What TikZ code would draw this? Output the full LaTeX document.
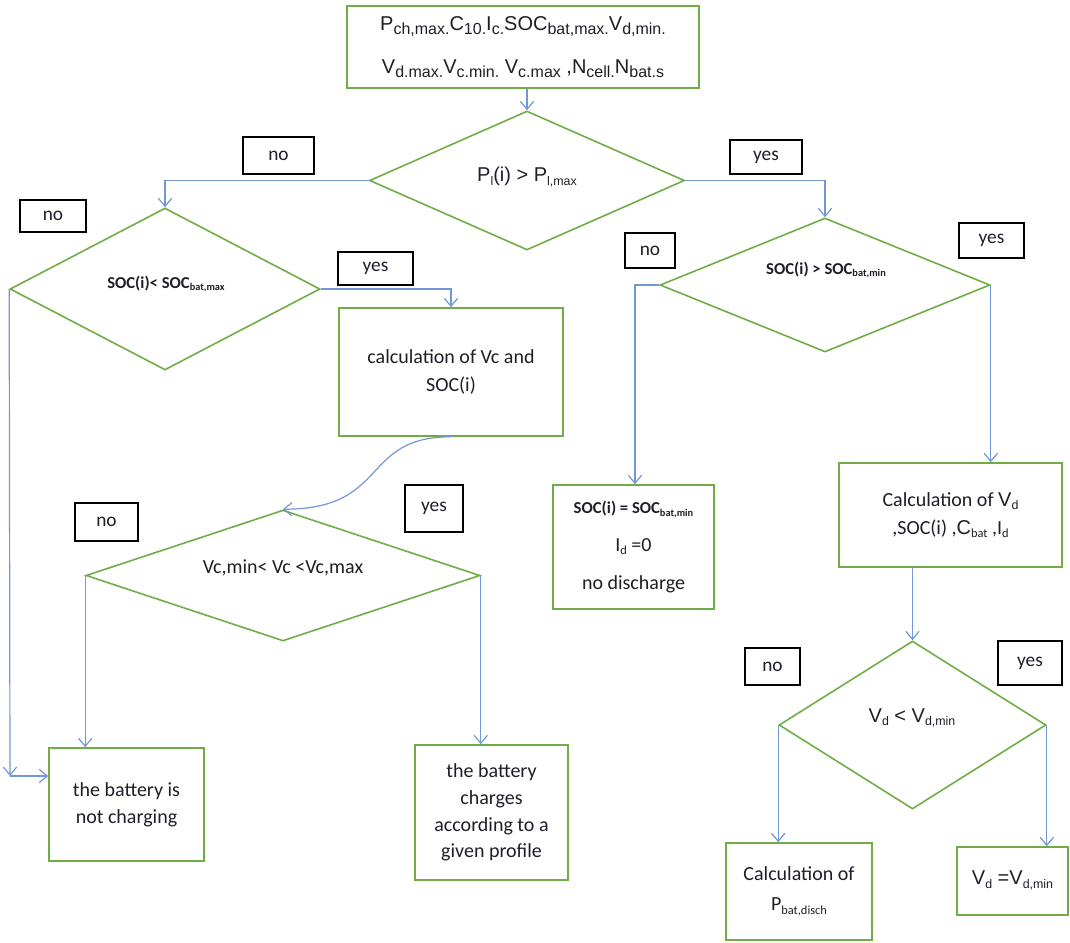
\documentclass[tikz,border=0pt]{standalone}
\usepackage{fontspec}
\setmainfont{Carlito}
\newfontfamily\arialf{Liberation Sans}
\usetikzlibrary{shapes.geometric,arrows.meta}
\definecolor{boxgreen}{HTML}{70AD47}
\definecolor{arrowblue}{HTML}{7396D8}
\definecolor{inkc}{HTML}{1E1E28}
\newcommand\sbs[1]{\raisebox{-0.35ex}{\scalebox{0.62}{#1}}}
\newcommand\sbt[1]{\raisebox{-0.35ex}{\scalebox{0.8}{#1}}}
\begin{document}
\begin{tikzpicture}[x=0.75pt,y=-0.75pt,
  box/.style={draw=boxgreen, line width=1.2pt, rectangle, inner sep=0pt, align=center, text=inkc, font=\fontsize{15}{21}\selectfont},
  dia/.style={draw=boxgreen, line width=1.2pt, diamond, inner sep=0pt},
  lbl/.style={draw=black, line width=1.1pt, rectangle, inner sep=0pt, text=inkc, font=\fontsize{14.5}{17}\selectfont},
  txt/.style={inner sep=0pt, text=inkc, font=\fontsize{15}{18}\selectfont},
  btxt/.style={inner sep=0pt, text=inkc, font=\fontsize{12.5}{15}\selectfont\bfseries},
  arr/.style={draw=arrowblue, line width=0.9pt, -{Straight Barb[length=6pt,width=10pt]}}
]
\useasboundingbox (0,0) rectangle (1070,942);

% process boxes
\node[box, minimum width=264pt, minimum height=61.5pt, font=\fontsize{15}{32}\selectfont\arialf] (top) at (523,47)
  {P\sbt{ch,max.}C\sbt{10.}I\sbt{c.}SOC\sbt{bat,max.}V\sbt{d,min.}\\
   V\sbt{d.max.}V\sbt{c.min.} V\sbt{c.max} ,N\sbt{cell.}N\sbt{bat.s}};
\node[box, minimum width=168pt, minimum height=96pt] (calcVc) at (451,372)
  {calculation of Vc and\\SOC(i)};
\node[box, minimum width=116.25pt, minimum height=84.75pt, font=\fontsize{15}{20}\selectfont] (notchg) at (126.5,804.5)
  {the battery is\\not charging};
\node[box, minimum width=114.75pt, minimum height=101.25pt, font=\fontsize{15}{20}\selectfont] (charges) at (491.5,812.5)
  {the battery\\charges\\according to a\\given profile};
\node[box, minimum width=120.75pt, minimum height=93pt, font=\fontsize{15}{28.5}\selectfont] (socbox) at (633.5,547)
  {{\fontsize{12.5}{15}\selectfont\bfseries SOC(i) = SOC\sbs{bat,min}}\\I\sbs{d} =0\\no discharge};
\node[box, minimum width=167.25pt, minimum height=78pt] (calcVd) at (950.5,515)
  {Calculation of {\arialf V\sbs{d}}\\,SOC(i) ,{\arialf C}\sbs{bat} ,I\sbs{d}};
\node[box, minimum width=109.5pt, minimum height=72.75pt, font=\fontsize{15}{22.5}\selectfont] (pbat) at (799,891.5)
  {Calculation of\\P\sbs{bat,disch}};
\node[box, minimum width=83.25pt, minimum height=51pt, font=\fontsize{15}{18}\selectfont\arialf] (vdmin) at (1012.5,881)
  {\raisebox{5pt}{V\sbs{d} =V\sbs{d,min}}};

% decisions
\node[dia, minimum width=236.25pt, minimum height=104.25pt] (d1) at (527,180.5) {};
\node[dia, minimum width=232.5pt, minimum height=121.5pt] (d2) at (165,289) {};
\node[dia, minimum width=295.5pt, minimum height=98.25pt] (d3) at (283,575.5) {};
\node[dia, minimum width=247.5pt, minimum height=100.5pt] (d4) at (825,285) {};
\node[dia, minimum width=200.25pt, minimum height=126pt] (d5) at (912.5,725) {};

\node[txt, font=\fontsize{15}{18}\selectfont\arialf] (d1t) at (527,177) {P\sbs{l}(i) > P\sbs{l,max}};
\node[btxt] (d2t) at (166,284) {SOC(i)< SOC\sbs{bat,max}};
\node[txt] (d3t) at (283,568) {Vc,min< Vc <Vc,max};
\node[btxt] (d4t) at (826,270) {SOC(i) > SOC\sbs{bat,min}};
\node[txt, font=\fontsize{15}{18}\selectfont\arialf] (d5t) at (912,718) {V\sbs{d} < V\sbs{d,min}};

% yes / no labels
\node[lbl, minimum width=53.25pt, minimum height=27.75pt] (no1) at (278.5,155.5) {no};
\node[lbl, minimum width=54pt, minimum height=25.5pt] (yes1) at (766,157) {yes};
\node[lbl, minimum width=49.5pt, minimum height=24pt] (no2) at (53,216) {no};
\node[lbl, minimum width=56.25pt, minimum height=24.75pt] (yes2) at (375.5,268.5) {yes};
\node[lbl, minimum width=47.25pt, minimum height=28.5pt] (no3) at (106.5,522) {no};
\node[lbl, minimum width=43.5pt, minimum height=35.25pt] (yes3) at (434,508.5) {yes};
\node[lbl, minimum width=37.5pt, minimum height=26.25pt] (no4) at (650,250.5) {no};
\node[lbl, minimum width=48.75pt, minimum height=26.25pt] (yes4) at (991.5,240.5) {yes};
\node[lbl, minimum width=41.25pt, minimum height=27.75pt] (no5) at (772.5,666.5) {no};
\node[lbl, minimum width=48pt, minimum height=33pt] (yes5) at (1030,663) {yes};

% connectors
\coordinate (c1) at (10,776);
\coordinate (c2) at (635,285);
\draw[arr] (d1.north |- top.south) -- (d1.north);
\draw[arr] (d1.west) -| (d2.north);
\draw[arr] (d1.east) -| (d4.north);
\draw[arr] (d2.east) -| (calcVc.north);
\draw[arr] (calcVc.south) .. controls +(-91,0) and +(107,0) .. (d3.north);
\draw[arr] (d2.west) -- (c1);
\draw[arr] (c1) -- (c1 -| notchg.west);
\draw[arr] (d3.west) -- (d3.west |- notchg.north);
\draw[arr] (d3.east) -- (d3.east |- charges.north);
\draw[arr] (d4.west) -- (c2) -- (c2 |- socbox.north);
\draw[arr] (d4.east) -- (d4.east |- calcVd.north);
\draw[arr] (d5.north |- calcVd.south) -- (d5.north);
\draw[arr] (d5.west) -- (d5.west |- pbat.north);
\draw[arr] (d5.east) -- (d5.east |- vdmin.north);
\end{tikzpicture}
\end{document}
